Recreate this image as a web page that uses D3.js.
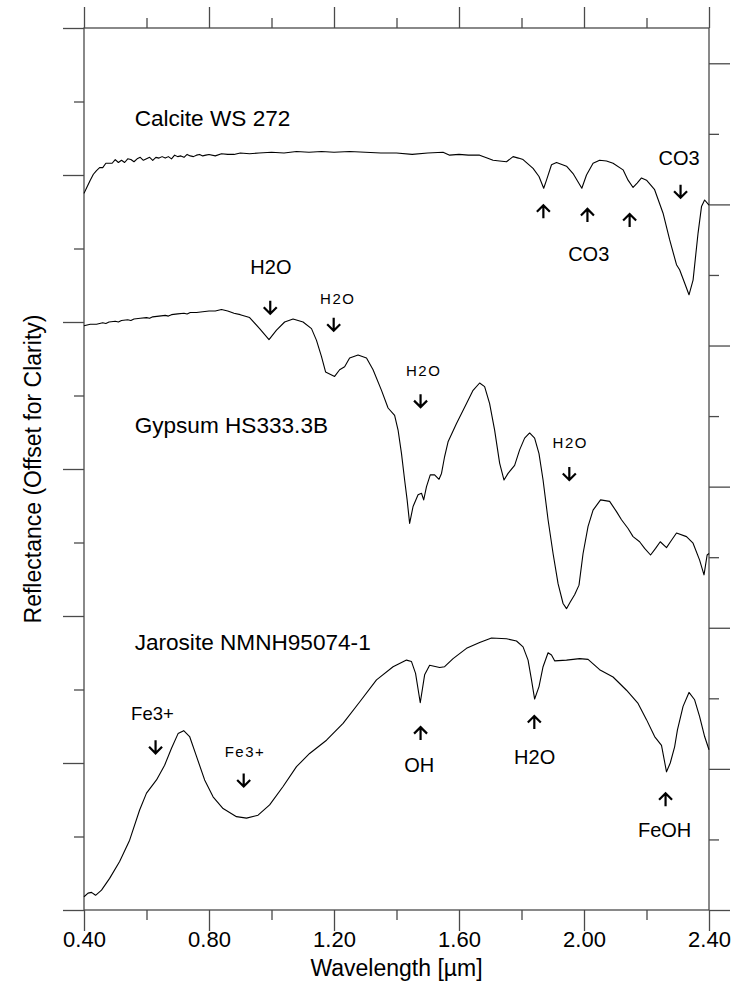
<!DOCTYPE html>
<html>
<head>
<meta charset="utf-8">
<script src="https://cdn.jsdelivr.net/npm/d3@7"></script>
<style>
  html, body { margin: 0; padding: 0; background: #fff; }
  svg { display: block; }
  text { font-family: "Liberation Sans", Arial, sans-serif; fill: #000; }
</style>
</head>
<body>
<svg id="chart" width="733" height="996"></svg>
<script>
// ---- Axis ticks -------------------------------------------------------
const xTicksMajor = [0.4, 0.8, 1.2, 1.6, 2.0, 2.4];
const xTicksMinor = [0.6, 1.0, 1.4, 1.8, 2.2];
const yTicksMajor = [0, 0.2, 0.4, 0.6, 0.8, 1.0, 1.2];
const yTicksMinor = [0.1, 0.3, 0.5, 0.7, 0.9, 1.1];
const rTicksMajor = [0, 0.2, 0.4, 0.6, 0.8, 1.0, 1.2];
const rTicksMinor = [0.1, 0.3, 0.5, 0.7, 0.9, 1.1];

// ---- Spectra: [wavelength (µm), offset reflectance] --------------------
const calcite = [
  [0.400,0.975],[0.410,0.984],[0.420,0.993],[0.430,1.001],[0.440,1.006],[0.450,1.010],[0.460,1.010],
  [0.470,1.016],[0.480,1.016],[0.490,1.016],[0.500,1.021],[0.510,1.017],[0.520,1.020],[0.530,1.017],
  [0.540,1.022],[0.550,1.021],[0.560,1.018],[0.570,1.022],[0.580,1.024],[0.590,1.020],[0.600,1.022],
  [0.610,1.024],[0.620,1.020],[0.630,1.024],[0.640,1.023],[0.650,1.025],[0.660,1.023],[0.670,1.025],
  [0.680,1.022],[0.690,1.027],[0.700,1.025],[0.710,1.026],[0.720,1.024],[0.730,1.028],[0.740,1.026],
  [0.750,1.025],[0.760,1.027],[0.770,1.028],[0.780,1.026],[0.790,1.027],[0.800,1.028],[0.820,1.026],
  [0.840,1.029],[0.860,1.028],[0.880,1.028],[0.900,1.030],[0.930,1.029],[0.960,1.030],[1.000,1.031],
  [1.040,1.030],[1.080,1.032],[1.120,1.031],[1.160,1.032],[1.200,1.031],[1.250,1.032],[1.300,1.031],
  [1.350,1.030],[1.400,1.030],[1.450,1.028],[1.500,1.030],[1.549,1.031],[1.570,1.027],[1.600,1.028],
  [1.630,1.027],[1.666,1.027],[1.690,1.023],[1.709,1.020],[1.730,1.019],[1.752,1.018],[1.773,1.025],
  [1.790,1.023],[1.805,1.021],[1.837,1.009],[1.856,0.998],[1.871,0.982],[1.880,0.993],[1.896,1.014],
  [1.912,1.017],[1.944,1.012],[1.965,1.002],[1.993,0.982],[2.008,1.000],[2.029,1.016],[2.050,1.020],
  [2.072,1.019],[2.093,1.016],[2.125,1.007],[2.141,0.993],[2.157,0.983],[2.170,0.989],[2.184,0.996],
  [2.200,0.993],[2.226,0.980],[2.253,0.948],[2.274,0.912],[2.296,0.878],[2.306,0.871],[2.322,0.853],
  [2.336,0.837],[2.349,0.857],[2.365,0.921],[2.376,0.957],[2.386,0.966],[2.400,0.959]
];

const gypsum = [
  [0.400,0.795],[0.420,0.797],[0.440,0.797],[0.460,0.799],[0.470,0.798],[0.480,0.800],[0.500,0.801],
  [0.510,0.800],[0.520,0.802],[0.540,0.803],[0.550,0.802],[0.560,0.804],[0.580,0.805],[0.600,0.806],
  [0.610,0.805],[0.620,0.807],[0.640,0.808],[0.660,0.809],[0.670,0.808],[0.680,0.810],[0.700,0.811],
  [0.720,0.812],[0.730,0.811],[0.740,0.813],[0.760,0.813],[0.780,0.814],[0.800,0.815],[0.820,0.815],
  [0.840,0.817],[0.860,0.815],[0.880,0.812],[0.900,0.810],[0.930,0.806],[0.962,0.791],[0.992,0.776],
  [1.016,0.789],[1.042,0.800],[1.069,0.804],[1.101,0.800],[1.128,0.791],[1.144,0.775],[1.160,0.753],
  [1.173,0.732],[1.202,0.726],[1.218,0.735],[1.234,0.739],[1.250,0.751],[1.277,0.755],[1.304,0.751],
  [1.325,0.735],[1.352,0.707],[1.373,0.683],[1.394,0.673],[1.405,0.653],[1.416,0.621],[1.426,0.585],
  [1.434,0.558],[1.442,0.526],[1.453,0.549],[1.469,0.565],[1.480,0.567],[1.487,0.558],[1.496,0.576],
  [1.508,0.592],[1.522,0.592],[1.536,0.586],[1.544,0.594],[1.554,0.617],[1.565,0.637],[1.592,0.662],
  [1.624,0.689],[1.645,0.707],[1.666,0.717],[1.682,0.712],[1.698,0.689],[1.714,0.653],[1.730,0.608],
  [1.744,0.585],[1.757,0.594],[1.778,0.605],[1.794,0.626],[1.810,0.642],[1.826,0.649],[1.842,0.642],
  [1.856,0.621],[1.869,0.585],[1.885,0.531],[1.901,0.485],[1.917,0.444],[1.933,0.417],[1.944,0.410],
  [1.956,0.419],[1.970,0.429],[1.984,0.442],[1.997,0.485],[2.013,0.522],[2.029,0.544],[2.053,0.558],
  [2.082,0.556],[2.104,0.542],[2.120,0.531],[2.141,0.519],[2.157,0.508],[2.178,0.501],[2.194,0.492],
  [2.213,0.483],[2.229,0.492],[2.244,0.501],[2.264,0.493],[2.280,0.503],[2.296,0.513],[2.328,0.508],
  [2.349,0.499],[2.370,0.476],[2.384,0.456],[2.394,0.483],[2.400,0.485]
];

const jarosite = [
  [0.400,0.018],[0.413,0.023],[0.424,0.024],[0.437,0.020],[0.456,0.027],[0.482,0.043],[0.514,0.066],
  [0.546,0.095],[0.578,0.136],[0.600,0.159],[0.632,0.177],[0.658,0.197],[0.680,0.220],[0.701,0.240],
  [0.719,0.244],[0.738,0.236],[0.760,0.209],[0.786,0.177],[0.813,0.154],[0.845,0.138],[0.888,0.127],
  [0.920,0.125],[0.957,0.129],[0.994,0.143],[1.037,0.168],[1.080,0.195],[1.122,0.213],[1.176,0.231],
  [1.229,0.254],[1.282,0.283],[1.336,0.313],[1.389,0.331],[1.432,0.340],[1.448,0.338],[1.461,0.322],
  [1.476,0.282],[1.490,0.320],[1.506,0.333],[1.538,0.330],[1.554,0.331],[1.581,0.342],[1.624,0.356],
  [1.666,0.364],[1.704,0.370],[1.752,0.369],[1.784,0.366],[1.805,0.358],[1.821,0.340],[1.832,0.313],
  [1.842,0.287],[1.856,0.304],[1.869,0.331],[1.885,0.350],[1.896,0.347],[1.906,0.339],[1.944,0.340],
  [1.986,0.342],[2.013,0.341],[2.050,0.327],[2.093,0.317],[2.136,0.299],[2.173,0.281],[2.200,0.259],
  [2.226,0.236],[2.248,0.224],[2.264,0.188],[2.276,0.200],[2.290,0.222],[2.299,0.245],[2.317,0.277],
  [2.336,0.296],[2.354,0.286],[2.370,0.263],[2.386,0.236],[2.400,0.218]
];

const spectra = [calcite, gypsum, jarosite];

// ---- Sample names and absorption-band annotations ---------------------
const sampleNames = [
  { text: "Calcite WS 272",       wl: 0.562, r: 1.067 },
  { text: "Gypsum HS333.3B",      wl: 0.562, r: 0.649 },
  { text: "Jarosite NMNH95074-1", wl: 0.562, r: 0.354 }
];

const bandLabels = [
  { text: "CO3",  wl: 2.304, r: 1.014, kind: "main" },
  { text: "CO3",  wl: 2.015, r: 0.883, kind: "main" },
  { text: "H2O",  wl: 0.998, r: 0.865, kind: "main" },
  { text: "H2O",  wl: 1.212, r: 0.824, kind: "faint" },
  { text: "H2O",  wl: 1.487, r: 0.726, kind: "faint" },
  { text: "H2O",  wl: 1.956, r: 0.629, kind: "faint" },
  { text: "Fe3+", wl: 0.619, r: 0.259, kind: "main" },
  { text: "Fe3+", wl: 0.915, r: 0.208, kind: "faint" },
  { text: "OH",   wl: 1.473, r: 0.188, kind: "main" },
  { text: "H2O",  wl: 1.842, r: 0.199, kind: "main" },
  { text: "FeOH", wl: 2.258, r: 0.100, kind: "main" }
];

const bandArrows = [
  { wl: 2.309, r: 0.978, dir: "down" },
  { wl: 1.870, r: 0.950, dir: "up" },
  { wl: 2.011, r: 0.945, dir: "up" },
  { wl: 2.146, r: 0.938, dir: "up" },
  { wl: 0.996, r: 0.820, dir: "down" },
  { wl: 1.199, r: 0.797, dir: "down" },
  { wl: 1.477, r: 0.693, dir: "down" },
  { wl: 1.953, r: 0.594, dir: "down" },
  { wl: 0.629, r: 0.222, dir: "down" },
  { wl: 0.911, r: 0.177, dir: "down" },
  { wl: 1.477, r: 0.240, dir: "up" },
  { wl: 1.841, r: 0.255, dir: "up" },
  { wl: 2.261, r: 0.150, dir: "up" }
];

// ---- Layout -----------------------------------------------------------
const svg = d3.select("#chart");
const plotLeft = 84, plotRight = 709, plotTop = 28, plotBottom = 910;
const majorLen = 21, minorLen = 10;
const axisColor = "#4a4a4a";

const x = d3.scaleLinear().domain([0.4, 2.4]).range([plotLeft, plotRight]);
const y = d3.scaleLinear().domain([0, 1.2]).range([plotBottom, plotTop]);
const yRight = d3.scaleLinear().domain([0, 1.25]).range([plotBottom, plotTop]);

function drawAxis(axis, tx, ty, keepLabels) {
  const g = svg.append("g").attr("transform", `translate(${tx},${ty})`).call(axis);
  g.select(".domain").remove();
  g.selectAll(".tick line").attr("stroke", axisColor).attr("stroke-width", 1.3);
  if (!keepLabels) g.selectAll(".tick text").remove();
  return g;
}

// top and bottom wavelength ticks
drawAxis(d3.axisTop(x).tickValues(xTicksMajor).tickSize(majorLen).tickSizeOuter(0), 0, plotTop, false);
drawAxis(d3.axisTop(x).tickValues(xTicksMinor).tickSize(minorLen).tickSizeOuter(0), 0, plotTop, false);
const xb = drawAxis(d3.axisBottom(x).tickValues(xTicksMajor).tickSize(majorLen).tickSizeOuter(0)
  .tickFormat(d3.format(".2f")), 0, plotBottom, true);
xb.selectAll(".tick text")
  .attr("y", 37).attr("dy", 0)
  .attr("font-size", 22).attr("font-family", "Liberation Sans, Arial, sans-serif")
  .attr("fill", "#000");
drawAxis(d3.axisBottom(x).tickValues(xTicksMinor).tickSize(minorLen).tickSizeOuter(0), 0, plotBottom, false);

// left and right reflectance ticks
drawAxis(d3.axisLeft(y).tickValues(yTicksMajor).tickSize(majorLen).tickSizeOuter(0), plotLeft, 0, false);
drawAxis(d3.axisLeft(y).tickValues(yTicksMinor).tickSize(minorLen).tickSizeOuter(0), plotLeft, 0, false);
drawAxis(d3.axisRight(yRight).tickValues(rTicksMajor).tickSize(majorLen).tickSizeOuter(0), plotRight, 0, false);
drawAxis(d3.axisRight(yRight).tickValues(rTicksMinor).tickSize(minorLen).tickSizeOuter(0), plotRight, 0, false);

// plot frame
svg.append("rect")
  .attr("x", plotLeft).attr("y", plotTop)
  .attr("width", plotRight - plotLeft).attr("height", plotBottom - plotTop)
  .attr("fill", "none").attr("stroke", axisColor).attr("stroke-width", 1.3);

// axis titles
svg.append("text")
  .attr("x", (plotLeft + plotRight) / 2).attr("y", 976)
  .attr("text-anchor", "middle").attr("font-size", 23)
  .text("Wavelength [µm]");
svg.append("text")
  .attr("transform", `translate(41,${(plotTop + plotBottom) / 2}) rotate(-90)`)
  .attr("text-anchor", "middle").attr("font-size", 23)
  .text("Reflectance (Offset for Clarity)");

// ---- Spectra ----------------------------------------------------------
const line = d3.line().x(d => x(d[0])).y(d => y(d[1]));
svg.append("g").selectAll("path")
  .data(spectra)
  .join("path")
  .attr("d", line)
  .attr("fill", "none")
  .attr("stroke", "#000")
  .attr("stroke-width", 1.1)
  .attr("stroke-linejoin", "round");

// ---- Labels -----------------------------------------------------------
svg.append("g").selectAll("text")
  .data(sampleNames)
  .join("text")
  .attr("x", d => x(d.wl)).attr("y", d => y(d.r))
  .attr("font-size", 22.6)
  .text(d => d.text);

svg.append("g").selectAll("text")
  .data(bandLabels)
  .join("text")
  .attr("x", d => x(d.wl)).attr("y", d => y(d.r))
  .attr("text-anchor", "middle")
  .attr("font-size", d => d.kind === "main" ? (d.text === "Fe3+" ? 18.5 : 20) : 15)
  .attr("font-family", d => d.kind === "main" ? "Liberation Sans, Arial, sans-serif" : "DejaVu Sans, sans-serif")
  .attr("letter-spacing", d => d.kind === "main" ? 0 : 1.5)
  .attr("fill", d => d.kind === "main" ? "#000" : "#222")
  .text(d => d.text);

// ---- Arrows -----------------------------------------------------------
const half = 6.5, head = 6.5;
svg.append("g").selectAll("path")
  .data(bandArrows)
  .join("path")
  .attr("d", d => {
    const cx = x(d.wl), cy = y(d.r);
    const tip = d.dir === "down" ? cy + half : cy - half;
    const tail = d.dir === "down" ? cy - half : cy + half;
    const back = d.dir === "down" ? tip - head : tip + head;
    return `M${cx},${tail}L${cx},${tip}M${cx - head},${back}L${cx},${tip}L${cx + head},${back}`;
  })
  .attr("fill", "none")
  .attr("stroke", "#000")
  .attr("stroke-width", 2.2);
</script>
</body>
</html>
